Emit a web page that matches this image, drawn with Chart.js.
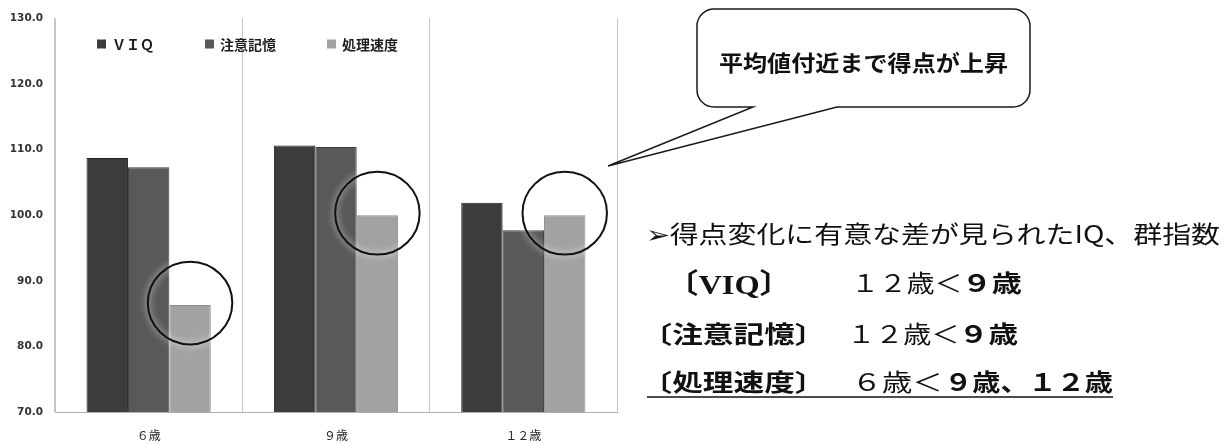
<!DOCTYPE html>
<html>
<head>
<meta charset="utf-8">
<script src="https://cdn.jsdelivr.net/npm/chart.js@4.4.0/dist/chart.umd.min.js"></script>
<style>
  html, body { margin: 0; padding: 0; background: #fff; }
  #wrap { position: relative; width: 1231px; height: 445px; }
</style>
</head>
<body>
<div id="wrap"><canvas id="iqChart" width="1231" height="445"></canvas></div>
<script>
// 年齢ごとの得点（VIQ・群指数）
const ageLabels = ['６歳', '９歳', '１２歳'];
const seriesNames = ['ＶＩＱ', '注意記憶', '処理速度'];
const viqScores = [108.7, 110.6, 101.9];
const attentionMemoryScores = [107.3, 110.4, 97.7];
const processingSpeedScores = [86.3, 100.0, 100.0];
const yTicks = [70, 80, 90, 100, 110, 120, 130];

// 右側の注記テキスト
const calloutText = '平均値付近まで得点が上昇';
const noteTitle = '➢得点変化に有意な差が見られたIQ、群指数';
const noteRows = [
    ['〔VIQ〕', '１２歳＜', '９歳'],
    ['〔注意記憶〕', '１２歳＜', '９歳'],
    ['〔処理速度〕', '６歳＜', '９歳、１２歳']
];

const CJK = '"Noto Sans CJK JP", "Noto Sans", sans-serif';

// インク幅に合わせて文字列を横方向に伸縮して描く
function inkText(ctx, text, font, left, right, cy) {
    ctx.font = font;
    ctx.textAlign = 'left';
    ctx.textBaseline = 'alphabetic';
    const m = ctx.measureText(text);
    const w = m.actualBoundingBoxLeft + m.actualBoundingBoxRight;
    const sx = (right - left) / w;
    const base = cy + (m.actualBoundingBoxAscent - m.actualBoundingBoxDescent) / 2;
    ctx.save();
    ctx.translate(left, base);
    ctx.scale(sx, 1);
    ctx.fillText(text, m.actualBoundingBoxLeft, 0);
    ctx.restore();
}

// 凡例（プロット内上部に横並び）
const legendInside = {
    id: 'legendInside',
    afterDraw(chart) {
        const ctx = chart.ctx;
        const area = chart.chartArea;
        let x = area.left + 42;
        const cy = 44;
        ctx.save();
        chart.data.datasets.forEach(ds => {
            ctx.fillStyle = ds.backgroundColor;
            ctx.fillRect(x, cy - 4.5, 9, 9);
            x += 9 + 6;
            ctx.font = 'bold 14px ' + CJK;
            ctx.fillStyle = '#1e1e1e';
            ctx.textBaseline = 'middle';
            ctx.textAlign = 'left';
            ctx.fillText(ds.label, x, cy + 1);
            x += ctx.measureText(ds.label).width + 51;
        });
        ctx.restore();
    }
};

// 処理速度の棒の上端を囲む円
const speedCircles = {
    id: 'speedCircles',
    afterDatasetsDraw(chart) {
        const ctx = chart.ctx;
        const meta = chart.getDatasetMeta(2);
        ctx.save();
        meta.data.forEach(bar => {
            const r = bar.width * 1.02;
            ctx.beginPath();
            ctx.ellipse(bar.x, bar.y - 2, r, r * 0.98, 0, 0, Math.PI * 2);
            ctx.shadowColor = 'rgba(255,255,255,0.95)';
            ctx.shadowBlur = 7;
            ctx.strokeStyle = '#111';
            ctx.lineWidth = 2;
            ctx.stroke();
        });
        ctx.restore();
    }
};

// 吹き出しと右側の注記
const sideNotes = {
    id: 'sideNotes',
    afterDraw(chart) {
        const ctx = chart.ctx;
        ctx.save();

        const L = 697, R = 1030, T = 9, B = 107, rad = 17;
        ctx.beginPath();
        ctx.moveTo(L + rad, T);
        ctx.lineTo(R - rad, T);
        ctx.arcTo(R, T, R, T + rad, rad);
        ctx.lineTo(R, B - rad);
        ctx.arcTo(R, B, R - rad, B, rad);
        ctx.lineTo(837, B);
        ctx.lineTo(608, 166);
        ctx.lineTo(753, B);
        ctx.lineTo(L + rad, B);
        ctx.arcTo(L, B, L, B - rad, rad);
        ctx.lineTo(L, T + rad);
        ctx.arcTo(L, T, L + rad, T, rad);
        ctx.closePath();
        ctx.fillStyle = '#fff';
        ctx.fill();
        ctx.strokeStyle = '#1a1a1a';
        ctx.lineWidth = 1.5;
        ctx.stroke();

        ctx.fillStyle = '#111';
        inkText(ctx, calloutText, 'bold 22px ' + CJK, 720, 1008, 62);

        inkText(ctx, noteTitle, '24px ' + CJK, 648, 1220, 234);

        const rowY = [283, 334, 382];
        const labelBox = [[688, 770], [662, 805], [662, 805]];
        const cmpBox = [[857, 960], [853, 957], [858, 940]];
        const boldBox = [[968, 1022], [965, 1018], [950, 1113]];
        noteRows.forEach((row, i) => {
            const labelFont = i === 0
                ? 'bold 28px "Liberation Serif", ' + CJK
                : 'bold 24px ' + CJK;
            inkText(ctx, row[0], labelFont, labelBox[i][0], labelBox[i][1], rowY[i]);
            inkText(ctx, row[1], '24px ' + CJK, cmpBox[i][0], cmpBox[i][1], rowY[i]);
            inkText(ctx, row[2], 'bold 24px ' + CJK, boldBox[i][0], boldBox[i][1], rowY[i]);
        });

        ctx.beginPath();
        ctx.moveTo(647, 397);
        ctx.lineTo(1113, 397);
        ctx.strokeStyle = '#111';
        ctx.lineWidth = 1.5;
        ctx.stroke();

        ctx.restore();
    }
};

const ctx = document.getElementById('iqChart').getContext('2d');
new Chart(ctx, {
    type: 'bar',
    data: {
        labels: ageLabels,
        datasets: [
            { label: seriesNames[0], data: viqScores, backgroundColor: '#3c3c3c', borderColor: '#222', borderWidth: 1 },
            { label: seriesNames[1], data: attentionMemoryScores, backgroundColor: '#595959', borderColor: '#3e3e3e', borderWidth: 1 },
            { label: seriesNames[2], data: processingSpeedScores, backgroundColor: '#a2a2a2', borderColor: '#8e8e8e', borderWidth: 1 }
        ]
    },
    options: {
        responsive: false,
        animation: false,
        layout: { padding: { top: 18, right: 614, bottom: 0, left: 0 } },
        datasets: { bar: { categoryPercentage: 0.663, barPercentage: 1.0 } },
        scales: {
            x: {
                grid: { display: true, offset: true, color: '#c6c6c6', lineWidth: 1, drawTicks: false },
                border: { display: true, color: '#b0b0b0', width: 1 },
                ticks: { color: '#2a2a2a', font: { family: 'Noto Sans CJK JP', size: 12 }, padding: 16 },
                afterFit(scale) { scale.height = 33; }
            },
            y: {
                min: yTicks[0],
                max: yTicks[yTicks.length - 1],
                grid: { display: false, drawTicks: false },
                border: { display: true, color: '#c6c6c6', width: 1 },
                ticks: {
                    stepSize: yTicks[1] - yTicks[0],
                    color: '#333',
                    padding: 12,
                    font: { family: 'DejaVu Sans', size: 10.5, weight: 'bold' },
                    callback: v => v.toFixed(1)
                },
                afterFit(scale) { scale.width = 55; }
            }
        },
        plugins: {
            legend: { display: false },
            tooltip: { enabled: false }
        }
    },
    plugins: [speedCircles, legendInside, sideNotes]
});
</script>
</body>
</html>
